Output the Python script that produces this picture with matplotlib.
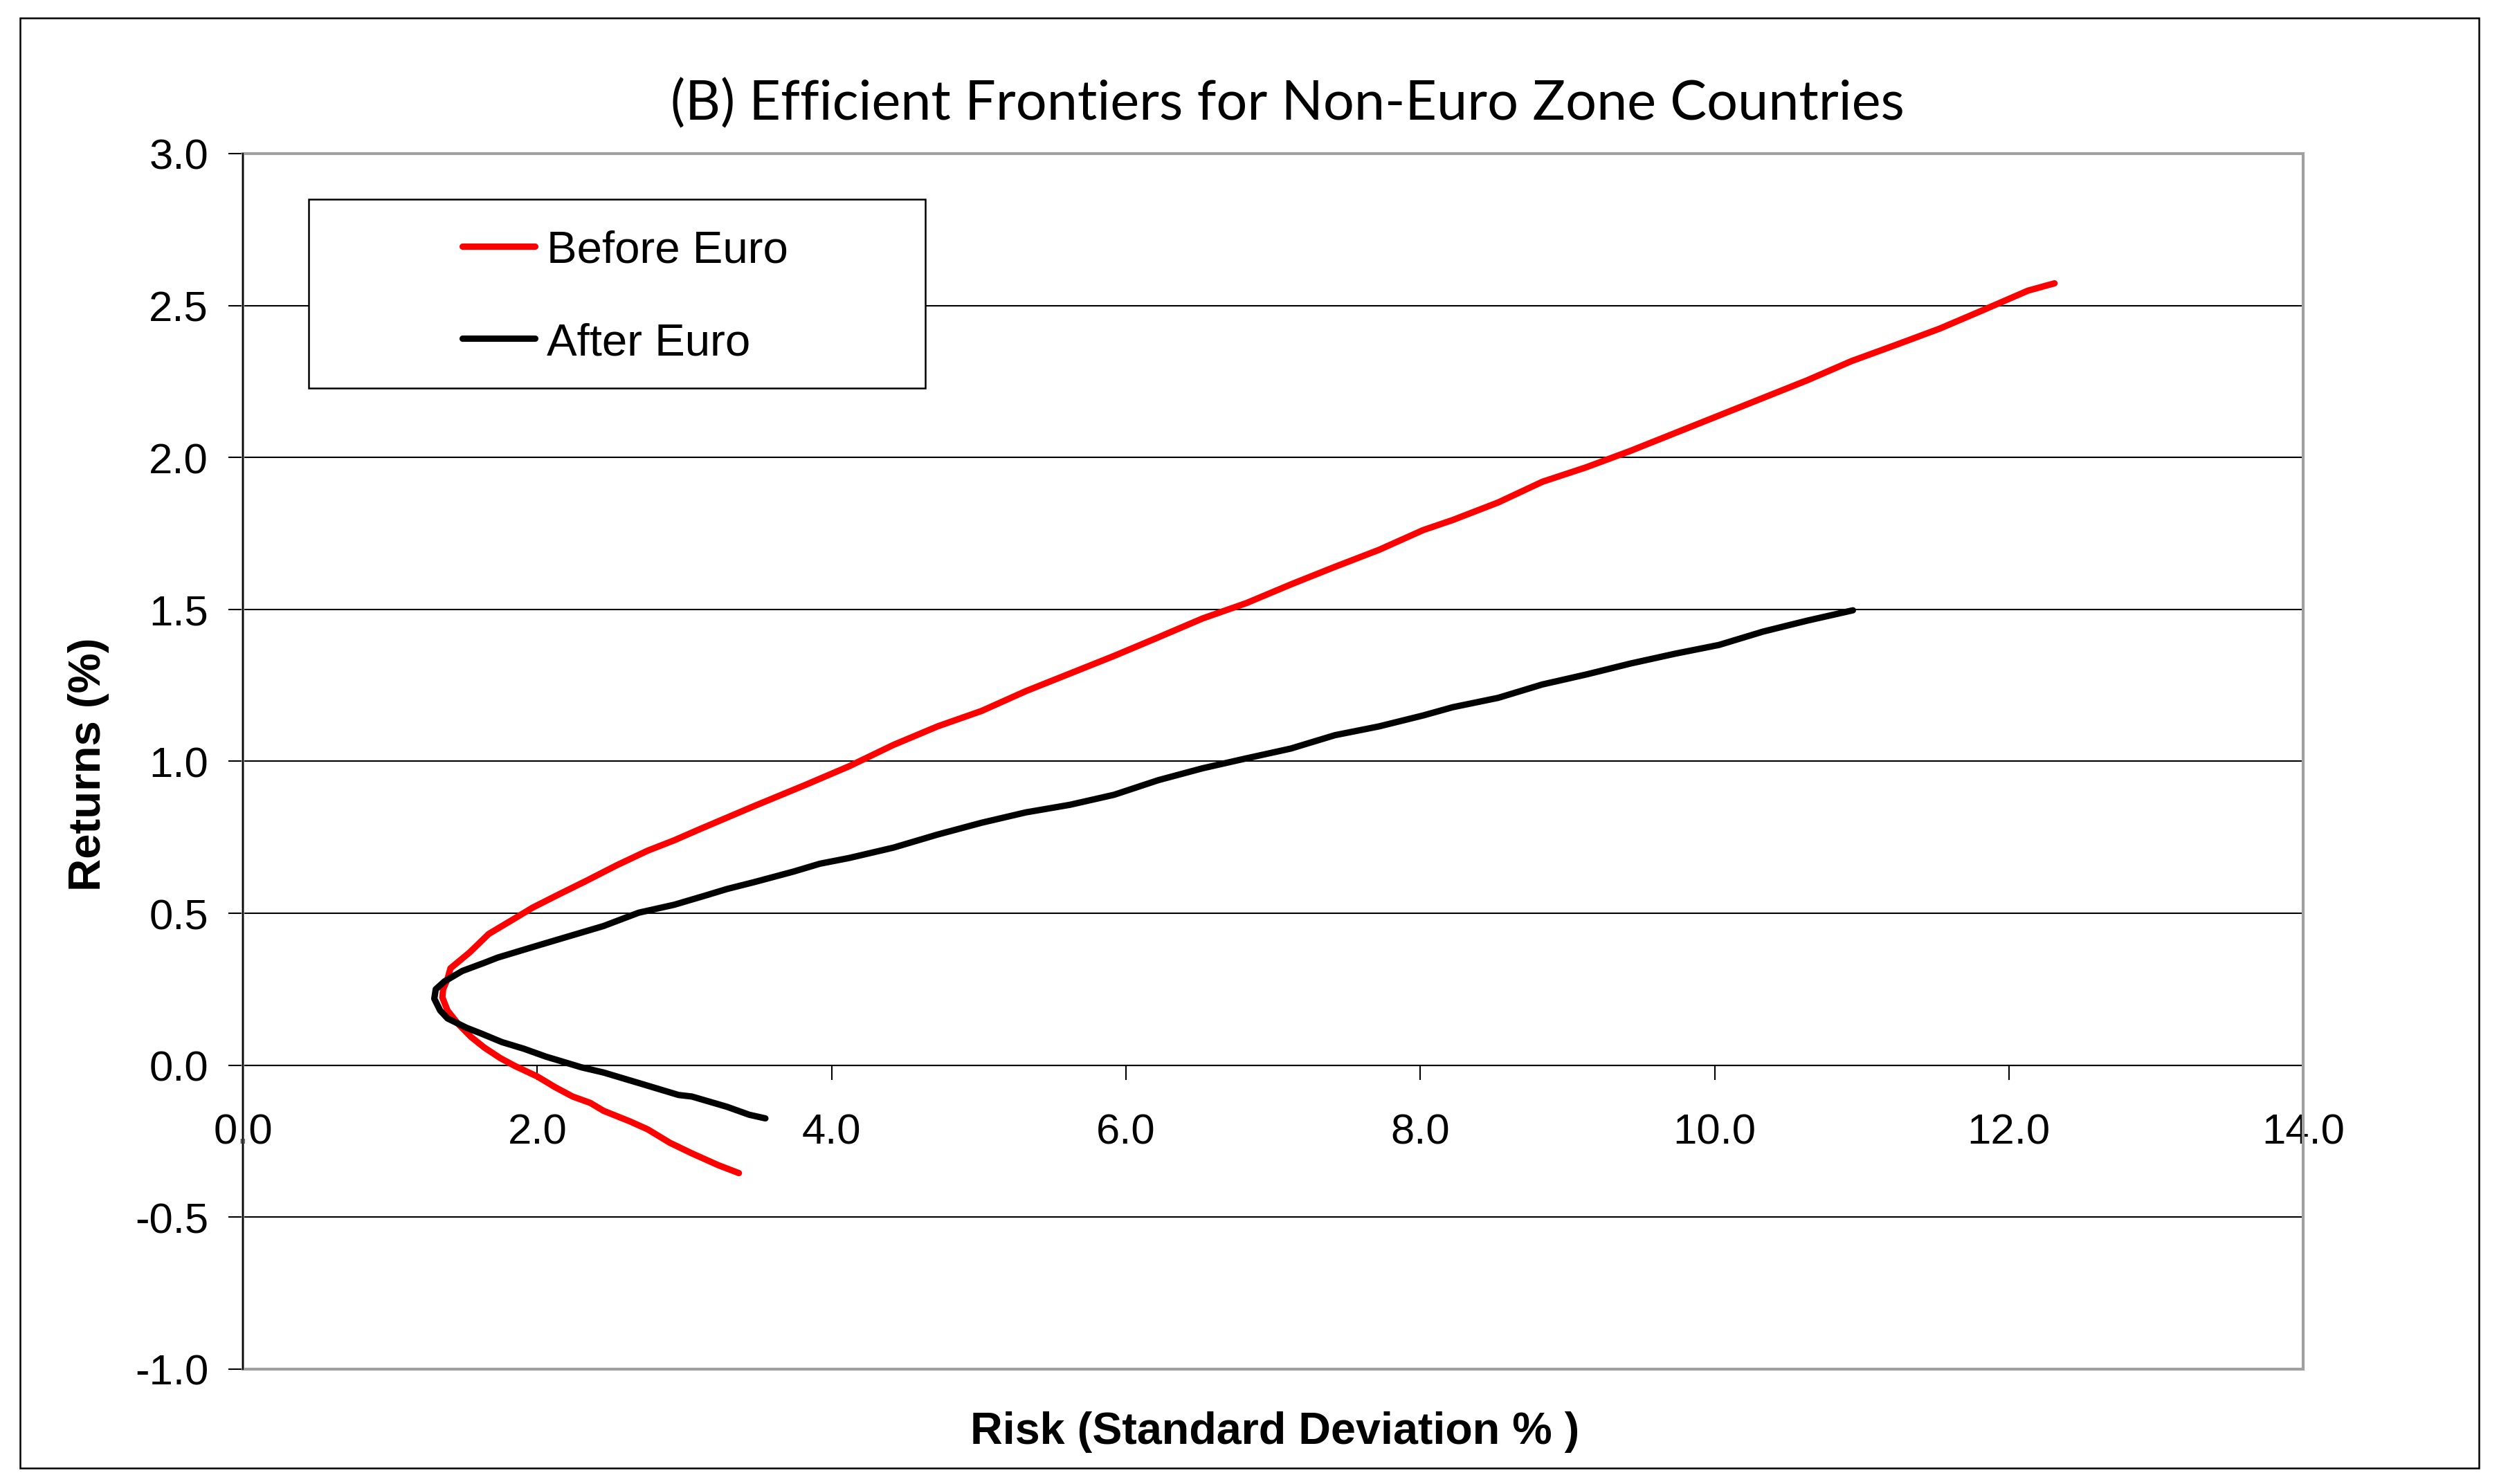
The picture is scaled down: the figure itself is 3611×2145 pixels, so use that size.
import matplotlib
matplotlib.use('Agg')
import matplotlib.pyplot as plt
from matplotlib.patches import Rectangle

# frontier points (risk %, return %)
before_risk = [3.37, 3.23, 3.05, 2.90, 2.75, 2.63, 2.45, 2.36, 2.24, 2.12, 2.00, 1.85,
               1.75, 1.64, 1.55, 1.46, 1.39, 1.355, 1.36, 1.39, 1.41, 1.54, 1.67, 1.85,
               1.97, 2.15, 2.33, 2.54, 2.75, 2.93, 3.11, 3.29, 3.47, 3.65, 3.82, 4.12,
               4.42, 4.72, 5.02, 5.32, 5.62, 5.92, 6.22, 6.52, 6.82, 7.12, 7.42, 7.72,
               8.02, 8.22, 8.53, 8.83, 9.13, 9.43, 9.73, 10.03, 10.33, 10.63, 10.93,
               11.23, 11.53, 11.83, 12.13, 12.31]
before_ret = [-0.355, -0.329, -0.290, -0.255, -0.211, -0.185, -0.150, -0.124, -0.103,
              -0.072, -0.037, -0.003, 0.023, 0.058, 0.093, 0.137, 0.180, 0.223, 0.250,
              0.284, 0.319, 0.371, 0.432, 0.484, 0.519, 0.563, 0.606, 0.658, 0.706,
              0.740, 0.778, 0.815, 0.852, 0.888, 0.922, 0.984, 1.054, 1.115, 1.166,
              1.231, 1.289, 1.347, 1.408, 1.470, 1.521, 1.582, 1.640, 1.696, 1.761,
              1.794, 1.852, 1.920, 1.968, 2.022, 2.080, 2.138, 2.196, 2.254, 2.317,
              2.370, 2.424, 2.486, 2.549, 2.573]

after_risk = [3.55, 3.44, 3.29, 3.05, 2.96, 2.72, 2.45, 2.30, 2.15, 2.06, 1.91, 1.76,
              1.61, 1.52, 1.39, 1.34, 1.30, 1.31, 1.37, 1.49, 1.64, 1.73, 1.97, 2.15,
              2.45, 2.69, 2.93, 3.14, 3.29, 3.47, 3.74, 3.92, 4.12, 4.42, 4.72, 5.02,
              5.32, 5.62, 5.92, 6.22, 6.52, 6.82, 7.12, 7.42, 7.72, 8.02, 8.22, 8.53,
              8.83, 9.13, 9.43, 9.73, 10.03, 10.33, 10.63, 10.94]
after_ret = [-0.175, -0.163, -0.137, -0.103, -0.098, -0.063, -0.024, -0.007, 0.015,
             0.028, 0.054, 0.076, 0.106, 0.123, 0.154, 0.180, 0.219, 0.250, 0.276,
             0.310, 0.337, 0.354, 0.389, 0.415, 0.458, 0.502, 0.528, 0.558, 0.580,
             0.602, 0.637, 0.663, 0.682, 0.716, 0.759, 0.798, 0.832, 0.857, 0.890,
             0.938, 0.977, 1.010, 1.042, 1.086, 1.115, 1.151, 1.178, 1.209, 1.253,
             1.286, 1.322, 1.354, 1.383, 1.427, 1.463, 1.497]

x_ticks = [0, 2, 4, 6, 8, 10, 12, 14]
y_ticks = [-1.0, -0.5, 0.0, 0.5, 1.0, 1.5, 2.0, 2.5, 3.0]

plt.rcParams['font.family'] = 'Liberation Sans'

fig = plt.figure(figsize=(12.04, 7.1533), dpi=300)
ax = fig.add_axes([0.0972, 0.0774, 0.8242, 0.8187])

# outer chart border
fig.patches.append(Rectangle((29 / 3612, 1 - 2123 / 2146), (3582 - 29) / 3612,
                             (2123 - 27) / 2146, transform=fig.transFigure,
                             fill=False, edgecolor='black', linewidth=0.6))

ax.plot(before_risk, before_ret, color='#ff0000', lw=2.2, label='Before Euro',
        solid_capstyle='round', zorder=5)
ax.plot(after_risk, after_ret, color='black', lw=2.2, label='After Euro',
        solid_capstyle='round', zorder=5)

ax.set_xlim(0, 14)
ax.set_ylim(-1, 3)
ax.set_xticks(x_ticks)
ax.set_xticklabels([f'{v:.1f}' for v in x_ticks])
ax.set_yticks(y_ticks)
ax.set_yticklabels([f'{v:.1f}' for v in y_ticks])
ax.yaxis.grid(True, color='black', lw=0.5)
ax.set_axisbelow(True)

ax.spines['bottom'].set_position(('data', 0))
ax.spines['bottom'].set_linewidth(0.5)
ax.spines['left'].set_linewidth(0.5)
ax.spines['left'].set_zorder(8)
for s in ['top', 'right']:
    ax.spines[s].set_visible(False)

# grey plot-area frame
ax.add_patch(Rectangle((0, 0), 1, 1, transform=ax.transAxes, fill=False,
                       edgecolor='#a0a0a0', lw=1.0, zorder=7, clip_on=False))

ax.tick_params(axis='x', direction='out', length=5, width=0.5, pad=11.5, labelsize=14.8)
ax.tick_params(axis='y', direction='out', length=5, width=0.5, pad=7, labelsize=14.8)

# legend box
ax.add_patch(Rectangle((0.0319, 0.8070), 0.2993, 0.1554, transform=ax.transAxes,
                       facecolor='white', edgecolor='black', lw=0.6, zorder=9))
leg = ax.legend(loc='center left', bbox_to_anchor=(0.1065, 0.8825), frameon=False,
                fontsize=15.7, borderpad=0, borderaxespad=0, handlelength=1.6,
                handletextpad=0.26, labelspacing=1.13)
leg.set_zorder(10)

fig.text(0.515, 0.930, '(B) Efficient Frontiers for Non-Euro Zone Countries',
         ha='center', va='center', fontsize=19.0, family='Lato')
fig.text(0.510, 0.0355, 'Risk (Standard Deviation % )', ha='center', va='center',
         fontsize=15.5, fontweight='bold')
fig.text(0.0354, 0.485, 'Returns (%)', ha='center', va='center', rotation=90,
         fontsize=15.7, fontweight='bold')

fig.savefig('out.png', dpi=300)
